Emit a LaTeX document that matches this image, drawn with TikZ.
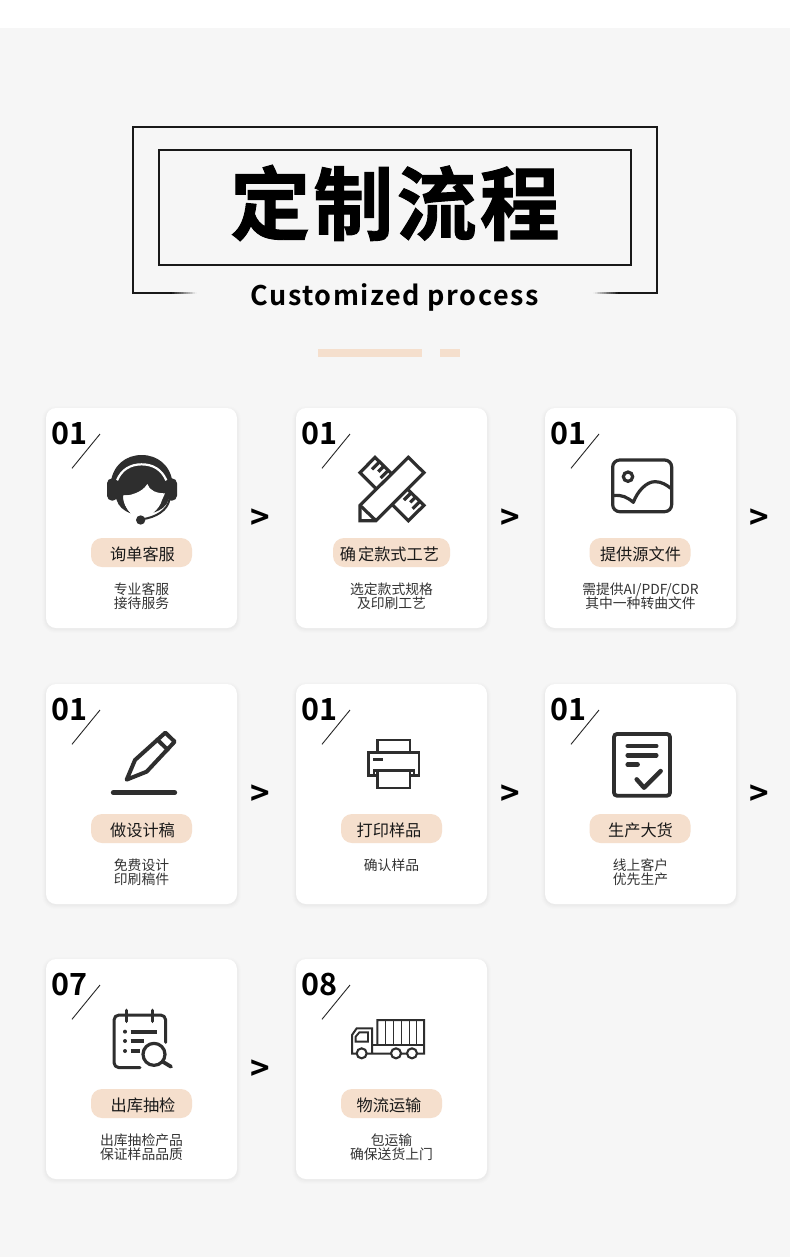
\documentclass[tikz,border=0pt]{standalone}
\usepackage{fontspec}
\setmainfont{Noto Sans CJK SC}
\newfontfamily\heavyfont[FakeBold=1.2]{Noto Sans CJK SC Bold}
\newfontfamily\boldcjk{Noto Sans CJK SC Bold}
\usetikzlibrary{calc}
\definecolor{pagebg}{HTML}{F6F6F6}
\definecolor{peach}{HTML}{F5DFCD}
\definecolor{inkdark}{HTML}{2E2E2E}
\tikzset{
  x=1pt,y=-1pt,
  cardbox/.style={fill=white,rounded corners=10pt,minimum width=191pt,minimum height=220pt,inner sep=0pt,draw=none},
  pillbox/.style={fill=peach,rounded corners=11pt,minimum height=29pt,inner sep=0pt,draw=none},
  numtext/.style={font=\boldcjk\fontsize{30.5}{30}\selectfont,anchor=base,inner sep=0pt,text=black},
  pilltext/.style={font=\fontsize{16.2}{16}\selectfont,inner sep=0pt,text=black!90},
  subtext/.style={font=\fontsize{13.8}{14.4}\selectfont,align=center,anchor=north,inner sep=0pt,text=black!80},
  chevron/.style={font=\boldcjk\fontsize{33}{33}\selectfont,inner sep=0pt,text=black},
  slash/.style={draw=black!85,line width=0.9pt},
  frameline/.style={draw=black!90,line width=2pt},
  iconz/.style 2 args={shift={(#1,#2)},x=0.33333pt,y=-0.33333pt},
  ico/.style={draw=inkdark,line width=3.2pt,line join=miter},
  icoround/.style={draw=inkdark,line width=3.2pt,line cap=round,line join=round},
}
% #1 name, #2 left, #3 top, #4 number, #5 pill left, #6 pill width, #7 title centre x, #8 title, #9 sub text
\newcommand\stepcard[9]{
  \fill[black,opacity=.006,rounded corners=13pt] ({#2-4},{#3-2}) rectangle ({#2+195},{#3+225});
  \fill[black,opacity=.008,rounded corners=12pt] ({#2-3},{#3-1}) rectangle ({#2+194},{#3+224});
  \fill[black,opacity=.01,rounded corners=11pt] ({#2-2},{#3}) rectangle ({#2+193},{#3+223});
  \fill[black,opacity=.014,rounded corners=10pt] ({#2-1},{#3+1}) rectangle ({#2+192},{#3+221.5});
  \node[cardbox] (#1) at ({#2+95.5},{#3+110}) {};
  \node[numtext] (#1n) at ({#2+23.5},{#3+36.5}) {#4};
  \coordinate (#1a) at ({#2+54},{#3+26});
  \coordinate (#1b) at ({#2+26},{#3+60.3});
  \draw[slash] (#1a) -- (#1b);
  \node[pillbox,minimum width=#6pt] (#1p) at ({#5+#6/2},{#3+144.5}) {};
  \node[pilltext] (#1t) at (#7,{#3+146}) {#8};
  \node[subtext] (#1s) at ({#2+95.5},{#3+174.3}) {#9};
}
\begin{document}
\begin{tikzpicture}
\useasboundingbox (0,0) rectangle (790,1258);
\fill[white] (0,0) rectangle (790,1258);
\fill[pagebg] (0,28) rectangle (790,1257);

% title block
\draw[frameline] (132.5,293) -- (132.5,126.5) -- (657,126.5) -- (657,293);
\draw[frameline] (158.8,150) rectangle (631,265);
\fill[black!90] (131.5,291.7) rectangle (170,293.7);
\fill[black!90] (658,291.7) rectangle (620,293.7);
\foreach \i in {1,...,15}{
  \pgfmathsetmacro{\mixval}{100-\i*6.5}
  \fill[black!90!white,color=black!\mixval!pagebg] ({170+(\i-1)*1.8},291.7) rectangle ({170+\i*1.8},293.7);
  \fill[color=black!\mixval!pagebg] ({620-(\i-1)*1.8},291.7) rectangle ({620-\i*1.8},293.7);
}
\node[font=\heavyfont\fontsize{80}{80}\selectfont\addfontfeature{LetterSpace=4},inner sep=0pt] (maintitle) at (395,203) {定制流程};
\node[font=\boldcjk\fontsize{27}{27}\selectfont\addfontfeature{LetterSpace=5.7},inner sep=0pt] (subtitle) at (394.5,297) {Customized process};
\fill[peach] (318,349) rectangle (422,357);
\fill[peach] (440,349) rectangle (460,357);

% cards
\stepcard{c1}{46}{408}{01}{91}{101}{142.5}{询单客服}{专业客服\\接待服务}
\stepcard{c2}{296}{408}{01}{333}{117}{389.5}{确\hspace{2pt}定款式工艺}{选定款式规格\\及印刷工艺}
\stepcard{c3}{545}{408}{01}{589.5}{101}{640.5}{提供源文件}{需提供AI/PDF/CDR\\其中一种转曲文件}
\stepcard{c4}{46}{684}{01}{91}{101}{142.5}{做设计稿}{免费设计\\印刷稿件}
\stepcard{c5}{296}{684}{01}{341}{101}{389}{打印样品}{确认样品}
\stepcard{c6}{545}{684}{01}{589.5}{101}{640.5}{生产大货}{线上客户\\优先生产}
\stepcard{c7}{46}{959}{07}{91}{101}{143}{出库抽检}{出库抽检产品\\保证样品品质}
\stepcard{c8}{296}{959}{08}{341}{101}{389}{物流运输}{包运输\\确保送货上门}

% chevrons
\node[chevron] (g1) at (260.5,519) {>};
\node[chevron] (g2) at (510.5,519) {>};
\node[chevron] (g3) at (759.5,519) {>};
\node[chevron] (g4) at (260.5,795) {>};
\node[chevron] (g5) at (510.5,795) {>};
\node[chevron] (g6) at (759.5,795) {>};
\node[chevron] (g7) at (260.5,1070) {>};

% icon 1: headset
\begin{scope}[iconz={40}{400}]
  \fill[inkdark] (212,250) .. controls (218,195) and (258,165) .. (305,165) .. controls (352,165) and (392,195) .. (398,250) -- (385,300) .. controls (382,315) and (365,330) .. (340,338) .. controls (352,322) and (360,305) .. (358,285) -- (250,285) .. controls (248,305) and (258,325) .. (272,340) .. controls (250,332) and (235,318) .. (230,300) -- cycle;
  \draw[white,line width=2.2pt] (231,241) .. controls (245,208) and (272,193) .. (305,193) .. controls (338,193) and (365,208) .. (379,241);
  \fill[white] (250,288) .. controls (268,286) and (305,280) .. (322,252) .. controls (328,272) and (350,280) .. (375,280) -- (366,300) .. controls (362,315) and (352,328) .. (340,338) -- (272,340) .. controls (258,325) and (248,305) .. (250,288) -- cycle;
  \fill[inkdark,rounded corners=5pt] (201,235) rectangle (233,302);
  \fill[inkdark,rounded corners=5pt] (378,235) rectangle (411,302);
  \draw[inkdark,line width=2pt] (388,300) .. controls (382,330) and (350,352) .. (305,358);
  \fill[inkdark] (302,360) circle[radius=14];
\end{scope}

% icon 2: ruler and pencil
\begin{scope}[iconz={290}{400}]
  \draw[ico,fill=white] (210,218) -- (255,172) -- (402,316) -- (355,362) -- cycle;
  \draw[ico] (268,186) -- (246,208) (281,199) -- (265,215) (294,212) -- (272,234);
  \draw[ico] (364,278) -- (342,300) (377,291) -- (361,307) (390,304) -- (368,326);
  \draw[ico,fill=white] (210,316) -- (355,172) -- (402,218) -- (258,362) -- (210,362) -- cycle;
  \draw[ico] (210,316) -- (258,362);
\end{scope}

% icon 3: picture
\begin{scope}[iconz={540}{400}]
  \draw[ico,rounded corners=7pt] (218,180) rectangle (395,335);
  \draw[ico] (264,230) circle[radius=14];
  \draw[icoround] (220,287) .. controls (245,283) and (262,292) .. (280,307) .. controls (292,275) and (318,245) .. (345,245) .. controls (365,245) and (380,255) .. (394,266);
\end{scope}

% icon 4: pen and underline
\begin{scope}[iconz={40}{680}]
  \draw[icoround,line width=4pt] (260,299) -- (285,240) -- (376,158) -- (404,185) -- (320,275) -- cycle;
  \draw[icoround,line width=4pt] (352,179) -- (383,209);
  \draw[inkdark,line width=5pt,line cap=round] (220,338) -- (404,338);
\end{scope}

% icon 5: printer
\begin{scope}[iconz={290}{680}]
  \draw[ico,line width=2.6pt] (262,218) -- (262,180) -- (360,180) -- (360,218);
  \draw[ico,line width=2.6pt] (262,287) -- (235,287) -- (235,218) -- (387,218) -- (387,287) -- (360,287);
  \draw[ico,line width=2.6pt] (250,238) -- (278,238);
  \draw[ico,line width=2.6pt] (252,285) -- (252,272) -- (372,272) -- (372,285);
  \draw[ico,line width=2.6pt,fill=white] (262,273) rectangle (360,324);
\end{scope}

% icon 6: document with check
\begin{scope}[iconz={540}{680}]
  \draw[ico,line width=3.8pt,rounded corners=3pt] (222,162) rectangle (390,347);
  \draw[icoround,line width=4.4pt] (263,198) -- (349,198) (263,226) -- (349,226) (263,254) -- (293,254);
  \draw[icoround,line width=4.4pt] (290,298) -- (312,323) -- (362,273);
\end{scope}

% icon 7: calendar with magnifier
\begin{scope}[iconz={40}{955}]
  \draw[icoround,line width=3pt,rounded corners=5pt] (300,338) -- (222,338) -- (222,180) -- (377,180) -- (377,262);
  \draw[icoround,line width=3.4pt] (260,166) -- (260,199) (337,166) -- (337,199);
  \fill[inkdark] (255,230) circle[radius=6] (255,258) circle[radius=6] (255,288) circle[radius=6];
  \draw[inkdark,line width=3.8pt] (272,230) -- (352,230) (272,258) -- (312,258) (272,288) -- (300,288);
  \draw[icoround,line width=3.2pt,fill=white] (342,298) circle[radius=33];
  \draw[icoround,line width=3.8pt] (368,320) -- (393,335);
\end{scope}

% icon 8: truck
\begin{scope}[iconz={290}{955}]
  \draw[ico,line width=2pt] (262,270) -- (262,195) -- (402,195) -- (402,296) -- (186,296) -- (186,240) -- (200,220) -- (246,220) -- (246,296);
  \draw[ico,line width=2pt] (246,270) -- (402,270);
  \draw[ico,line width=1.4pt] (286,195) -- (286,270) (310,195) -- (310,270) (334,195) -- (334,270) (358,195) -- (358,270) (380,195) -- (380,270);
  \draw[ico,line width=1.9pt] (197,260) -- (197,245) -- (208,232) -- (234,232) -- (234,260) -- cycle;
  \draw[ico,line width=2.1pt,fill=white] (215,295) circle[radius=15] (318,295) circle[radius=15] (366,295) circle[radius=15];
\end{scope}
\end{tikzpicture}
\end{document}
